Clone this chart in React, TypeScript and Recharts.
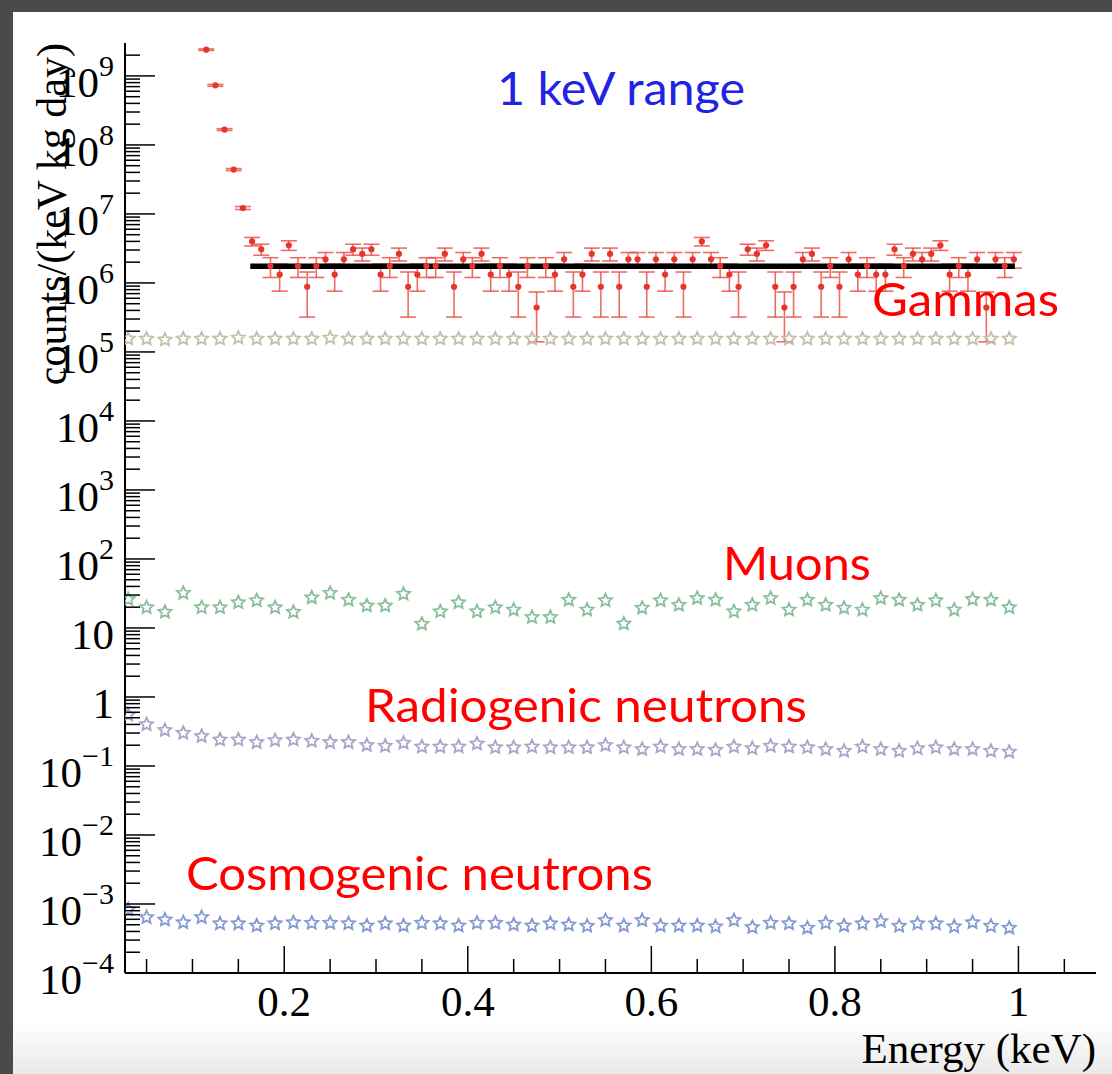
import { ScatterChart, Scatter, XAxis, YAxis, ErrorBar, ReferenceLine } from "recharts";

const W = 1112;
const H = 1074;
const MARGIN = { top: 43, right: 16, bottom: 0, left: 0 };
const Y_AXIS_W = 125;
const X_AXIS_H = 101;
const PLOT_LEFT = MARGIN.left + Y_AXIS_W;
const PLOT_BOTTOM = H - MARGIN.bottom - X_AXIS_H;

const X_DOMAIN = [0.0265, 1.0845];
const Y_DOMAIN = [1e-4, 3e9];

const SERIF = "'Liberation Serif', 'Times New Roman', serif";
const SANS = "Lato, 'Noto Sans', sans-serif";
const LABEL_SIZE = 43;
const EXP_SIZE = 30;

// axis ticks
const xMajorTicks = [0.2, 0.4, 0.6, 0.8, 1];
const xTickLabels = ["0.2", "0.4", "0.6", "0.8", "1"];
const xMinorTicks = [0.05, 0.1, 0.15, 0.25, 0.3, 0.35, 0.45, 0.5, 0.55, 0.65, 0.7, 0.75, 0.85, 0.9, 0.95, 1.05];
const yDecades = [-4, -3, -2, -1, 0, 1, 2, 3, 4, 5, 6, 7, 8, 9];
const yMinorSteps = [2, 3, 4, 5, 6, 7, 8, 9];

// simulated energy bins (stars), 0.02 keV wide
const starX = [
  0.03, 0.05, 0.07, 0.09, 0.11, 0.13, 0.15, 0.17, 0.19, 0.21,
  0.23, 0.25, 0.27, 0.29, 0.31, 0.33, 0.35, 0.37, 0.39, 0.41,
  0.43, 0.45, 0.47, 0.49, 0.51, 0.53, 0.55, 0.57, 0.59, 0.61,
  0.63, 0.65, 0.67, 0.69, 0.71, 0.73, 0.75, 0.77, 0.79, 0.81,
  0.83, 0.85, 0.87, 0.89, 0.91, 0.93, 0.95, 0.97, 0.99,
];

const gammaSim = [
  1.55e5, 1.55e5, 1.5e5, 1.55e5, 1.55e5, 1.55e5, 1.6e5, 1.55e5, 1.55e5, 1.55e5,
  1.55e5, 1.6e5, 1.55e5, 1.55e5, 1.55e5, 1.55e5, 1.55e5, 1.55e5, 1.55e5, 1.55e5,
  1.55e5, 1.55e5, 1.55e5, 1.55e5, 1.55e5, 1.55e5, 1.55e5, 1.55e5, 1.55e5, 1.55e5,
  1.55e5, 1.55e5, 1.55e5, 1.55e5, 1.55e5, 1.55e5, 1.55e5, 1.55e5, 1.55e5, 1.55e5,
  1.55e5, 1.55e5, 1.55e5, 1.55e5, 1.55e5, 1.55e5, 1.55e5, 1.55e5, 1.55e5,
];

const muons = [
  26, 19.8, 17, 32, 19.8, 19.8, 23.4, 25, 19.8, 17,
  27.5, 32, 25.5, 21, 21, 31, 11.4, 17.3, 23.4, 17.3,
  19.8, 18.3, 14.3, 14.3, 25.5, 18.3, 25, 11.5, 19.5, 25,
  21.5, 27, 25.5, 17.3, 21.5, 27, 18.3, 25.5, 21.5, 19.5,
  18.3, 27, 25.5, 21.5, 25, 18.3, 26, 25.5, 19.8,
];

const radiogenic = [
  0.55, 0.4, 0.33, 0.3, 0.27, 0.24, 0.24, 0.22, 0.235, 0.24,
  0.23, 0.22, 0.22, 0.2, 0.195, 0.215, 0.19, 0.19, 0.19, 0.21,
  0.185, 0.185, 0.19, 0.185, 0.185, 0.185, 0.2, 0.185, 0.175, 0.19,
  0.175, 0.175, 0.17, 0.19, 0.18, 0.195, 0.19, 0.185, 0.175, 0.165,
  0.19, 0.175, 0.165, 0.18, 0.185, 0.175, 0.175, 0.165, 0.16,
];

const cosmogenic = [
  8.3e-4, 6.4e-4, 5.9e-4, 5.4e-4, 6.4e-4, 5.2e-4, 5.2e-4, 4.85e-4, 5.2e-4, 5.4e-4,
  5.3e-4, 5.3e-4, 5.2e-4, 4.85e-4, 5.2e-4, 4.85e-4, 5.3e-4, 5.2e-4, 4.85e-4, 5.3e-4,
  5.3e-4, 5.0e-4, 4.85e-4, 5.2e-4, 5.0e-4, 4.8e-4, 5.8e-4, 4.85e-4, 5.8e-4, 4.85e-4,
  4.85e-4, 4.85e-4, 4.7e-4, 5.8e-4, 4.6e-4, 5.3e-4, 5.2e-4, 4.5e-4, 5.3e-4, 4.85e-4,
  5.2e-4, 5.6e-4, 4.8e-4, 5.2e-4, 5.2e-4, 4.7e-4, 5.4e-4, 4.8e-4, 4.5e-4,
];

// measured spectrum, 0.01 keV bins
const dataX = [
  0.115, 0.125, 0.135, 0.145, 0.155, 0.165, 0.175, 0.185, 0.195, 0.205,
  0.215, 0.225, 0.235, 0.245, 0.255, 0.265, 0.275, 0.285, 0.295, 0.305,
  0.315, 0.325, 0.335, 0.345, 0.355, 0.365, 0.375, 0.385, 0.395, 0.405,
  0.415, 0.425, 0.435, 0.445, 0.455, 0.465, 0.475, 0.485, 0.495, 0.505,
  0.515, 0.525, 0.535, 0.545, 0.555, 0.565, 0.575, 0.585, 0.595, 0.605,
  0.615, 0.625, 0.635, 0.645, 0.655, 0.665, 0.675, 0.685, 0.695, 0.705,
  0.715, 0.725, 0.735, 0.745, 0.755, 0.765, 0.775, 0.785, 0.795, 0.805,
  0.815, 0.825, 0.835, 0.845, 0.855, 0.865, 0.875, 0.885, 0.895, 0.905,
  0.915, 0.925, 0.935, 0.945, 0.955, 0.965, 0.975, 0.985, 0.995,
];

const dataY = [
  2.4e9, 7.3e8, 1.67e8, 4.4e7, 1.22e7, 4.0e6, 3.08e6, 1.76e6, 1.32e6, 3.52e6,
  1.76e6, 8.8e5, 1.76e6, 2.2e6, 1.32e6, 2.2e6, 3.08e6, 2.64e6, 3.08e6, 1.32e6,
  1.76e6, 2.64e6, 8.8e5, 1.32e6, 1.76e6, 1.76e6, 2.64e6, 8.8e5, 2.2e6, 1.76e6,
  2.64e6, 1.32e6, 1.76e6, 1.32e6, 8.8e5, 1.76e6, 4.4e5, 1.76e6, 1.32e6, 2.2e6,
  8.8e5, 1.32e6, 2.64e6, 8.8e5, 2.64e6, 8.8e5, 2.2e6, 2.2e6, 8.8e5, 2.2e6,
  1.32e6, 2.2e6, 8.8e5, 2.2e6, 4.0e6, 2.2e6, 1.76e6, 1.32e6, 8.8e5, 3.08e6,
  2.64e6, 3.52e6, 8.8e5, 4.4e5, 8.8e5, 2.2e6, 2.64e6, 8.8e5, 1.76e6, 8.8e5,
  2.2e6, 1.32e6, 1.76e6, 1.32e6, 1.32e6, 3.08e6, 1.76e6, 2.64e6, 2.2e6, 2.64e6,
  3.52e6, 1.32e6, 1.76e6, 1.32e6, 2.2e6, 4.4e5, 2.2e6, 1.76e6, 2.2e6,
];

const dataErr = [
  6e7, 2.2e7, 5e6, 1.4e6, 6e5, 5.6e5, 5.6e5, 5.6e5, 5.6e5, 5.6e5,
  5.6e5, 5.6e5, 5.6e5, 5.6e5, 5.6e5, 5.6e5, 5.6e5, 5.6e5, 5.6e5, 5.6e5,
  5.6e5, 5.6e5, 5.6e5, 5.6e5, 5.6e5, 5.6e5, 5.6e5, 5.6e5, 5.6e5, 5.6e5,
  5.6e5, 5.6e5, 5.6e5, 5.6e5, 5.6e5, 5.6e5, 3e5, 5.6e5, 5.6e5, 5.6e5,
  5.6e5, 5.6e5, 5.6e5, 5.6e5, 5.6e5, 5.6e5, 5.6e5, 5.6e5, 5.6e5, 5.6e5,
  5.6e5, 5.6e5, 5.6e5, 5.6e5, 5.6e5, 5.6e5, 5.6e5, 5.6e5, 5.6e5, 5.6e5,
  5.6e5, 5.6e5, 5.6e5, 3e5, 5.6e5, 5.6e5, 5.6e5, 5.6e5, 5.6e5, 5.6e5,
  5.6e5, 5.6e5, 5.6e5, 5.6e5, 5.6e5, 5.6e5, 5.6e5, 5.6e5, 5.6e5, 5.6e5,
  5.6e5, 5.6e5, 5.6e5, 5.6e5, 5.6e5, 3e5, 5.6e5, 5.6e5, 5.6e5,
];

// flat fit over the plateau
const fitRange = [0.163, 0.996];
const fitLevel = 1.75e6;

// text annotations: [text, left x, baseline y, width, colour]
const annotations: [string, number, number, number, string][] = [
  ["1 keV range", 497, 105, 248, "#2222e4"],
  ["Gammas", 872, 316, 187, "#ff0000"],
  ["Muons", 723, 580, 148, "#ff0000"],
  ["Radiogenic neutrons", 365, 722, 442, "#ff0000"],
  ["Cosmogenic neutrons", 186, 890, 467, "#ff0000"],
];

const yTicks = yDecades
  .flatMap((d) => [Math.pow(10, d), ...yMinorSteps.map((k) => k * Math.pow(10, d))])
  .filter((v) => v < Y_DOMAIN[1] * 0.999);
const xTicks = [...xMinorTicks, ...xMajorTicks].sort((a, b) => a - b);

const toPoints = (ys: number[]) => starX.map((x, i) => ({ x, y: ys[i] }));
const dataPoints = dataX.map((x, i) => ({ x, y: dataY[i], err: dataErr[i] }));

const starPath = (cx: number, cy: number, R: number, r: number) => {
  let d = "";
  for (let i = 0; i < 10; i++) {
    const rad = i % 2 === 0 ? R : r;
    const a = -Math.PI / 2 + (i * Math.PI) / 5;
    d += (i === 0 ? "M" : "L") + (cx + rad * Math.cos(a)).toFixed(2) + "," + (cy + rad * Math.sin(a)).toFixed(2);
  }
  return d + "Z";
};

const makeStar = (color: string) => (props: any) => {
  if (props.cx == null || props.cy == null) return <g />;
  return <path d={starPath(props.cx, props.cy, 6.8, 3.2)} fill="none" stroke={color} strokeWidth={1.8} />;
};

const RedDot = (props: any) => {
  if (props.cx == null || props.cy == null) return <g />;
  return <circle cx={props.cx} cy={props.cy} r={3.1} fill="#e5362c" />;
};

const YTick = (props: any) => {
  const { y, payload } = props;
  const v = payload.value;
  const lg = Math.log10(v);
  const exp = Math.round(lg);
  const isMajor = Math.abs(lg - exp) < 1e-6;
  let label = null;
  if (isMajor) {
    const base = { x: 114, y: y + 21, textAnchor: "end" as const, fontFamily: SERIF, fontSize: LABEL_SIZE, fill: "#000" };
    label =
      exp === 0 ? (
        <text {...base}>1</text>
      ) : exp === 1 ? (
        <text {...base}>10</text>
      ) : (
        <text {...base}>
          10
          <tspan dy={-21} fontSize={EXP_SIZE}>{exp < 0 ? "\u2212" + -exp : String(exp)}</tspan>
        </text>
      );
  }
  return (
    <g>
      <line x1={PLOT_LEFT} x2={PLOT_LEFT + (isMajor ? 30 : 15)} y1={y} y2={y} stroke="#000" strokeWidth={1.5} />
      {label}
    </g>
  );
};

const XTick = (props: any) => {
  const { x, payload } = props;
  const v = payload.value;
  const idx = xMajorTicks.findIndex((t) => Math.abs(t - v) < 1e-9);
  const isMajor = idx >= 0;
  return (
    <g>
      <line x1={x} x2={x} y1={PLOT_BOTTOM} y2={PLOT_BOTTOM - (isMajor ? 27 : 14)} stroke="#000" strokeWidth={1.5} />
      {isMajor && (
        <text x={x} y={PLOT_BOTTOM + 43} textAnchor="middle" fontFamily={SERIF} fontSize={LABEL_SIZE} fill="#000">
          {xTickLabels[idx]}
        </text>
      )}
    </g>
  );
};

export default function App() {
  return (
    <div style={{ position: "absolute", left: 0, top: 0, width: W, height: H, background: "#fff", overflow: "hidden" }}>
      <div style={{ position: "absolute", left: 0, top: 1022, width: W, height: H - 1022, background: "linear-gradient(#ffffff, #e9e9e9)" }} />
      <div style={{ position: "absolute", left: 0, top: 0, width: W, height: 12, background: "#4a4a4a" }} />
      <div style={{ position: "absolute", left: 0, top: 0, width: 13, height: H, background: "#4a4a4a" }} />
      <div style={{ position: "absolute", left: 0, top: 0 }}>
        <ScatterChart width={W} height={H} margin={MARGIN}>
          <XAxis
            type="number"
            dataKey="x"
            domain={X_DOMAIN}
            ticks={xTicks}
            interval={0}
            allowDataOverflow
            tickLine={false}
            axisLine={{ stroke: "#000", strokeWidth: 2 }}
            tick={(p: any) => <XTick {...p} />}
            height={X_AXIS_H}
          />
          <XAxis xAxisId="top" orientation="top" type="number" domain={X_DOMAIN} height={0} tick={false} tickLine={false} axisLine={{ stroke: "#555", strokeWidth: 2 }} />
          <YAxis
            type="number"
            dataKey="y"
            scale="log"
            domain={Y_DOMAIN}
            ticks={yTicks}
            interval={0}
            allowDataOverflow
            tickLine={false}
            axisLine={{ stroke: "#000", strokeWidth: 2 }}
            tick={(p: any) => <YTick {...p} />}
            width={Y_AXIS_W}
          />
          <YAxis yAxisId="right" orientation="right" type="number" domain={[0, 1]} width={0} tick={false} tickLine={false} axisLine={{ stroke: "#666", strokeWidth: 2 }} />
          <Scatter data={toPoints(gammaSim)} isAnimationActive={false} shape={makeStar("#c4bfa6")} />
          <Scatter data={toPoints(muons)} isAnimationActive={false} shape={makeStar("#88bf9b")} />
          <Scatter data={toPoints(radiogenic)} isAnimationActive={false} shape={makeStar("#a6a6c8")} />
          <Scatter data={toPoints(cosmogenic)} isAnimationActive={false} shape={makeStar("#8399d2")} />
          <Scatter data={dataPoints} isAnimationActive={false} shape={RedDot}>
            <ErrorBar dataKey="err" direction="y" width={8} stroke="#e8483f" strokeOpacity={0.8} strokeWidth={1.6} />
          </Scatter>
          <ReferenceLine
            segment={[{ x: fitRange[0], y: fitLevel }, { x: fitRange[1], y: fitLevel }]}
            stroke="#000"
            strokeWidth={5.5}
            ifOverflow="visible"
          />
        </ScatterChart>
      </div>
      <svg width={W} height={H} style={{ position: "absolute", left: 0, top: 0, pointerEvents: "none" }}>
        <text transform="translate(66, 43) rotate(-90)" textAnchor="end" fontFamily={SERIF} fontSize={42} fill="#000">
          counts/(keV kg day)
        </text>
        <text x={1096} y={1063} textAnchor="end" fontFamily={SERIF} fontSize={43} fill="#000">
          Energy (keV)
        </text>
        {annotations.map(([t, x, y, w, c]) => (
          <text key={t} x={x} y={y} fontFamily={SANS} fontSize={47} fill={c} textLength={w} lengthAdjust="spacingAndGlyphs">
            {t}
          </text>
        ))}
      </svg>
    </div>
  );
}
